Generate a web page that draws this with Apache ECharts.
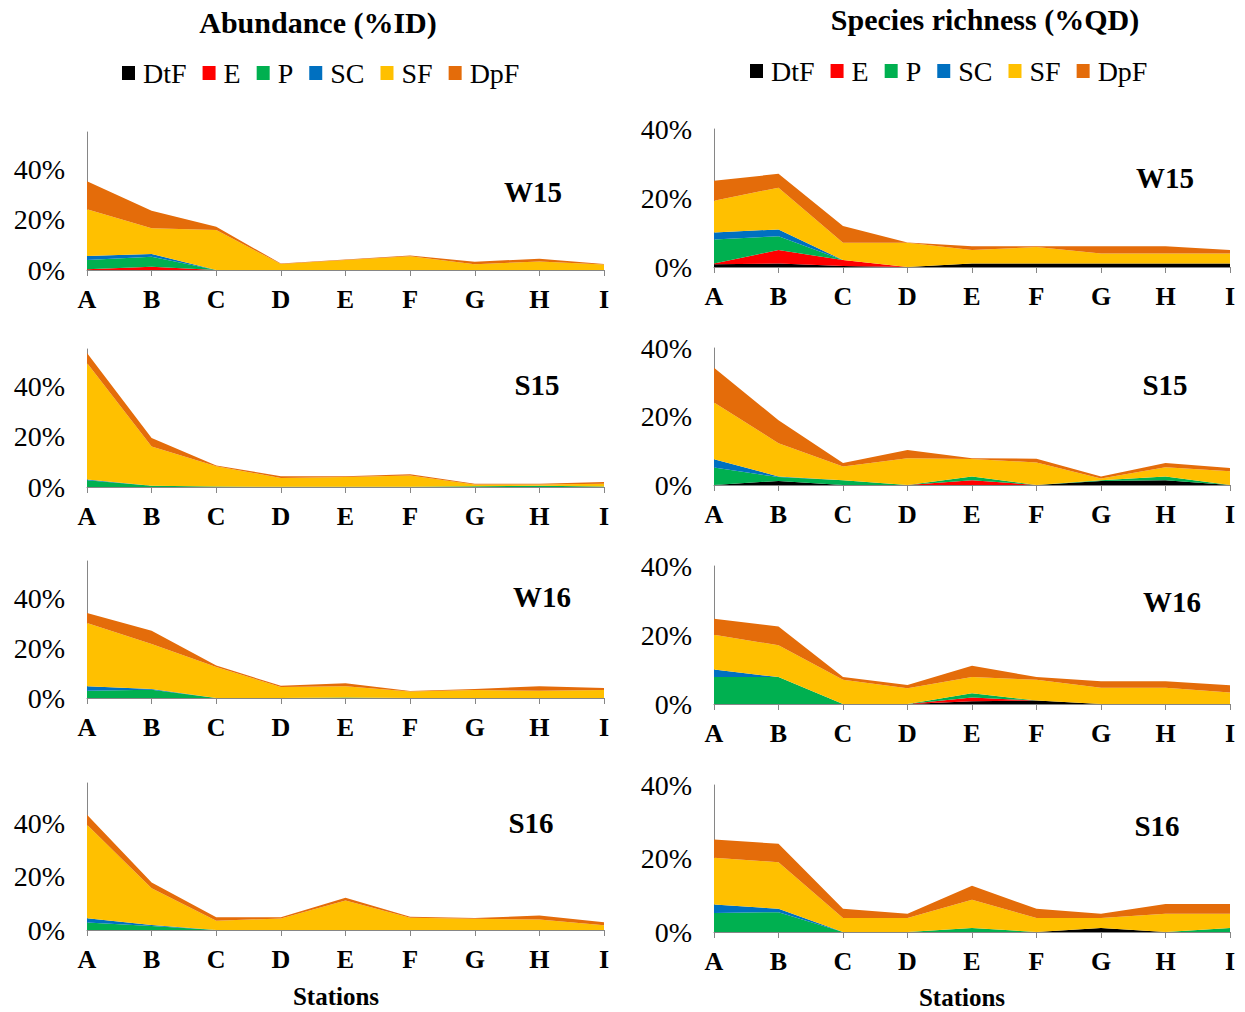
<!DOCTYPE html>
<html><head><meta charset="utf-8">
<script src="https://cdn.jsdelivr.net/npm/echarts@6/dist/echarts.min.js"></script>
<style>html,body{margin:0;padding:0;background:#fff}#c{width:1245px;height:1012px}</style>
</head><body><div id="c"></div>
<script>
const stations = ['A','B','C','D','E','F','G','H','I'];
const groupNames = ['DtF','E','P','SC','SF','DpF'];
const groupColors = ['#000000','#FF0000','#00B050','#0070C0','#FFC000','#E46C0A'];
const yTicks = [0, 20, 40];

// Abundance (%ID) - rows in order DtF, E, P, SC, SF, DpF
const idW15 = [
  [0,0,0,0,0,0,0,0,0],
  [0.3,1.3,0,0,0,0,0,0,0],
  [3.7,4.0,0,0,0,0,0,0,0],
  [1.6,1.1,0,0,0,0,0,0,0],
  [18.6,10.2,15.9,2.4,4.0,5.5,2.3,3.4,2.2],
  [11.2,7.0,1.3,0.2,0.2,0.3,1.0,1.1,0.2]
];
const idS15 = [
  [0,0,0,0,0,0,0,0,0],
  [0,0,0,0,0,0,0,0,0],
  [2.7,0.5,0.2,0.1,0.1,0.1,0.3,0.5,0.2],
  [0.3,0,0,0,0,0,0,0,0],
  [46.4,15.6,8.1,3.5,3.9,4.5,0.7,0.5,1.1],
  [4.0,3.4,0.3,0.7,0.3,0.5,0.3,0.3,0.7]
];
const idW16 = [
  [0,0,0,0,0,0,0,0,0],
  [0,0,0,0,0,0,0,0,0],
  [2.9,3.3,0,0,0.2,0,0,0,0],
  [1.8,0.3,0,0,0,0,0,0,0],
  [25.4,18.1,12.4,4.4,4.5,2.6,3.2,2.9,3.2],
  [4.0,5.3,0.6,0.5,1.2,0.2,0.4,1.8,0.8]
];
const idS16 = [
  [0,0,0,0,0,0,0,0,0],
  [0,0,0,0,0,0,0,0,0],
  [2.8,1.5,0,0,0,0,0,0,0],
  [1.6,0.4,0,0,0,0,0,0,0],
  [35.0,13.7,3.5,4.3,11.0,4.6,4.2,3.9,1.8],
  [3.7,2.2,1.3,0.5,1.1,0.4,0.3,1.5,1.1]
];
// Species richness (%QD)
const qdW15 = [
  [0.8,1.0,0.3,0,1,1,1,1,1],
  [0.2,3.9,1.7,0,0,0,0,0,0],
  [7.0,4.0,0,0,0,0,0,0,0],
  [2.0,2.0,0,0,0,0,0,0,0],
  [9.2,12.1,5.0,7.0,3.9,4.8,2.9,2.9,2.9],
  [5.8,4.0,4.9,0.1,1.1,0.2,2.1,2.1,1.0]
];
const qdS15 = [
  [0,1.2,0,0,0,0,1.2,1.4,0],
  [0,0,0,0,1.4,0,0,0,0],
  [5.1,1.1,1.4,0,1.1,0,0.2,1.1,0],
  [2.4,0.2,0,0,0,0,0,0,0],
  [16.6,9.7,4.0,7.8,5.1,6.6,0.5,2.7,4.0],
  [10.1,6.7,1.0,2.4,0.2,1.1,0.6,1.2,1.0]
];
const qdW16 = [
  [0,0,0,0,0.8,1.0,0,0,0],
  [0,0,0,0,1.1,0,0,0,0],
  [7.8,7.8,0,0,1.2,0,0,0,0],
  [2.2,0,0,0,0,0,0,0,0],
  [10.1,9.2,7.0,4.6,4.7,6.0,4.7,4.7,3.3],
  [4.6,5.5,0.8,0.9,3.3,0.8,1.9,1.9,2.1]
];
const qdS16 = [
  [0,0,0,0,0,0,1.1,0,0],
  [0,0,0,0,0,0,0,0,0],
  [5.2,5.4,0,0,1.1,0,0,0,1.1],
  [2.3,0.9,0,0,0,0,0,0,0],
  [12.7,12.7,3.8,3.8,7.7,3.8,2.7,5.0,3.9],
  [5.0,5.0,2.5,1.2,3.8,2.5,1.2,2.6,2.6]
];
const panelLabels = ['W15','S15','W16','S16'];

const SERIF = '"Liberation Serif","Times New Roman",serif';
const panels = [
  {data:idW15, max:55, grid:{left:87, top:132, width:517, height:138}, label:[533,192]},
  {data:idS15, max:55, grid:{left:87, top:349, width:517, height:138}, label:[537,385]},
  {data:idW16, max:55, grid:{left:87, top:561, width:517, height:137}, label:[542,597]},
  {data:idS16, max:55, grid:{left:87, top:783, width:517, height:147}, label:[531,823]},
  {data:qdW15, max:40, grid:{left:714, top:129, width:516, height:138}, label:[1165,178]},
  {data:qdS15, max:40, grid:{left:714, top:348, width:516, height:137}, label:[1165,385]},
  {data:qdW16, max:40, grid:{left:714, top:566, width:516, height:138}, label:[1172,602]},
  {data:qdS16, max:40, grid:{left:714, top:785, width:516, height:147}, label:[1157,826]}
];

const grids = [], xAxes = [], yAxes = [], series = [], graphics = [];
panels.forEach((p, i) => {
  grids.push(Object.assign({containLabel:false}, p.grid));
  xAxes.push({
    type:'category', gridIndex:i, data:stations, boundaryGap:false,
    axisLine:{lineStyle:{color:'#868686', width:1}},
    axisTick:{show:true, length:6, interval:0, lineStyle:{color:'#868686'}},
    axisLabel:{interval:0, margin:16, color:'#000', fontFamily:SERIF, fontWeight:'bold', fontSize:26},
    splitLine:{show:false}
  });
  yAxes.push({
    type:'value', gridIndex:i, min:0, max:p.max, interval:20,
    axisLine:{show:true, lineStyle:{color:'#868686', width:1}},
    axisTick:{show:false},
    splitLine:{show:false},
    axisLabel:{margin:22, color:'#000', fontFamily:SERIF, fontSize:28,
      formatter: v => (yTicks.indexOf(v) >= 0 ? v + '%' : '')}
  });
  groupNames.forEach((name, k) => {
    series.push({
      name:name, type:'line', xAxisIndex:i, yAxisIndex:i, stack:'p'+i,
      data:p.data[k], symbol:'none', showSymbol:false,
      color:groupColors[k],
      lineStyle:{width:0, color:groupColors[k]},
      areaStyle:{color:groupColors[k], opacity:1},
      emphasis:{disabled:true}, silent:true
    });
  });
  graphics.push({type:'text', x:p.label[0], y:p.label[1],
    style:{text:panelLabels[i % 4], fill:'#000', font:'bold 29px ' + SERIF, textAlign:'center', textVerticalAlign:'middle'}});
});

graphics.push({type:'text', x:318, y:22, style:{text:'Abundance (%ID)', fill:'#000', font:'bold 30px ' + SERIF, textAlign:'center', textVerticalAlign:'middle'}});
graphics.push({type:'text', x:985, y:19, style:{text:'Species richness (%QD)', fill:'#000', font:'bold 30px ' + SERIF, textAlign:'center', textVerticalAlign:'middle'}});
graphics.push({type:'text', x:336, y:996, style:{text:'Stations', fill:'#000', font:'bold 25px ' + SERIF, textAlign:'center', textVerticalAlign:'middle'}});
graphics.push({type:'text', x:962, y:997, style:{text:'Stations', fill:'#000', font:'bold 25px ' + SERIF, textAlign:'center', textVerticalAlign:'middle'}});

const legendCommon = {
  data: groupNames.map((n, k) => ({name:n, itemStyle:{color:groupColors[k]}})),
  icon:'rect', itemWidth:13, itemHeight:14, itemGap:16, padding:0,
  selectedMode:false,
  textStyle:{fontFamily:SERIF, fontSize:28, color:'#000', padding:[0,0,0,3]}
};
const chart = echarts.init(document.getElementById('c'), null, {renderer:'svg'});
chart.setOption({
  animation:false,
  backgroundColor:'#fff',
  legend:[
    Object.assign({left:122, top:59}, legendCommon),
    Object.assign({left:750, top:57}, legendCommon)
  ],
  grid:grids, xAxis:xAxes, yAxis:yAxes, series:series, graphic:graphics
});
</script>
</body></html>
